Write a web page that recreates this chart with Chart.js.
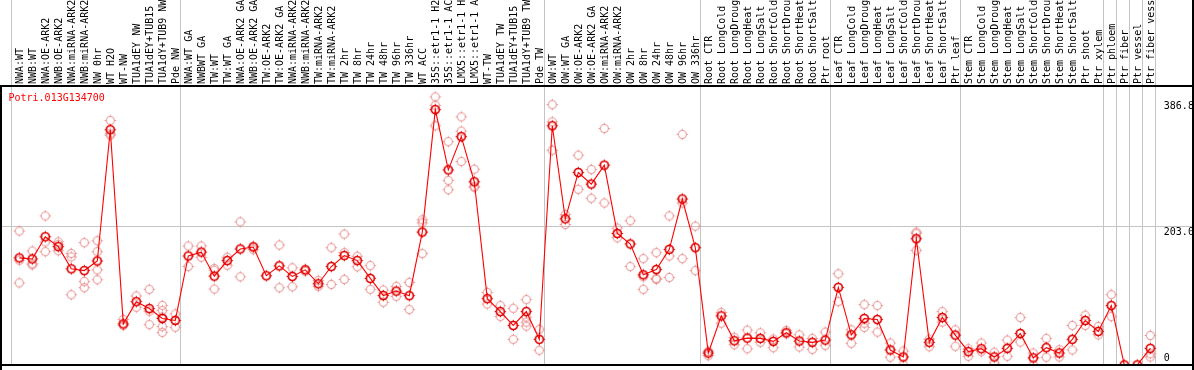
<!DOCTYPE html>
<html><head><meta charset="utf-8">
<script src="https://cdn.jsdelivr.net/npm/chart.js@4/dist/chart.umd.min.js"></script>
<style>html,body{margin:0;padding:0;background:#fff;overflow:hidden}canvas{display:block}</style>
</head><body>
<canvas id="c" width="1194" height="370"></canvas>
<script>
const geneId = 'Potri.013G134700';

const categories = [
 'NWA:WT','NWB:WT','NWA:OE-ARK2','NWB:OE-ARK2','NWA:miRNA-ARK2','NWB:miRNA-ARK2','NW 0hr','WT H2O','WT-NW','TUA1dEY NW',
 'TUA1dEY+TUB15','TUA1dY+TUB9 NW','Pde NW','NWA:WT GA','NWBWT GA','TW:WT','TW:WT GA','NWA:OE-ARK2 GA','NWB:OE-ARK2 GA','TW:OE-ARK2',
 'TW:OE-ARK2 GA','NWA:miRNA-ARK2','NWB:miRNA-ARK2','TW:miRNA-ARK2','TW:miRNA-ARK2','TW 2hr','TW 8hr','TW 24hr','TW 48hr','TW 96hr',
 'TW 336hr','WT ACC','35S::etr1-1 H2O','35S::etr1-1 ACC','LMX5::etr1-1 H2O','LMX5::etr1-1 ACC','WT-TW','TUA1dEY TW','TUA1dEY+TUB15','TUA1dY+TUB9 TW',
 'Pde TW','OW:WT','OW:WT GA','OW:OE-ARK2','OW:OE-ARK2 GA','OW:miRNA-ARK2','OW:miRNA-ARK2','OW 2hr','OW 8hr','OW 24hr',
 'OW 48hr','OW 96hr','OW 336hr','Root CTR','Root LongCold','Root LongDrought','Root LongHeat','Root LongSalt','Root ShortCold','Root ShortDrought',
 'Root ShortHeat','Root ShortSalt','Ptr root','Leaf CTR','Leaf LongCold','Leaf LongDrought','Leaf LongHeat','Leaf LongSalt','Leaf ShortCold','Leaf ShortDrought',
 'Leaf ShortHeat','Leaf ShortSalt','Ptr leaf','Stem CTR','Stem LongCold','Stem LongDrought','Stem LongHeat','Stem LongSalt','Stem ShortCold','Stem ShortDrought',
 'Stem ShortHeat','Stem ShortSalt','Ptr shoot','Ptr xylem','Ptr phloem','Ptr fiber','Ptr vessel','Ptr fiber vessel'
];

const means = [
 156.5,155,187.5,173,140.5,138,152,344,60,92.5,
 82.4,67.9,65,159.4,165,129.8,152.6,169.6,172.5,130.4,
 144.9,129.4,139,118.7,143.9,159.9,152.6,126.5,101.5,108,
 101.3,194.3,373.5,285.3,333.9,267.9,96.9,78,57.7,78,
 37.4,349.8,213.7,281.5,264.5,292.2,192.3,176.9,131.8,139.5,
 169,242.7,171.5,17.4,71.7,35.3,39.2,38.8,34.4,47,
 34.9,33,36.3,113.4,44,67.8,66.4,21.8,11.6,184.6,
 33,69.3,43.6,19.4,23.7,11.6,24.2,46,10.2,25.2,
 17.4,37.4,65,49,86.8,0,0,24.2
];

const repA = [
 195.8,166.7,218,180,163,178.8,181.7,357.6,66.4,100.8,
 110.5,87,74.6,174,174,141,157.4,209.3,173.4,null,
 175.4,142,140,123.5,171.5,191.4,158.9,145.3,109.5,114.8,
 120.6,212.2,392,326.6,362.9,286.3,106,86.8,82.8,95.5,
 51.9,380.8,219.9,306.7,285.9,345.9,200.1,210.8,155.5,164.2,
 218,337.2,203,19.9,76.6,40.3,50.9,47,37.8,50.4,
 44,38.8,48,133.3,51.3,88.2,86.8,32,20.3,194.3,
 37.8,78,51.3,23.7,32,18.5,36.3,69.3,17.4,38.8,
 22.2,57.7,72.7,56.2,102.8,null,null,43.1
];

const repB = [
 153,148,179.8,176,158,122,165.7,338,57.7,84.3,
 78.5,79.5,55,144,157.4,138.5,145.8,128.9,168.6,null,
 112.9,114.4,137,114.8,117.7,164.2,143.5,110.5,91.6,100.3,
 81,207.8,379.8,269.9,342,261.2,89,70.8,37.4,69.8,
 21.4,355.7,205.4,256.8,243.7,236.9,186,143.9,128.9,126.5,
 159.4,236.9,138,13.5,61,29.5,23.7,33,25.2,45.5,
 26.2,22.8,28.6,92.6,31.5,61,48,11.2,0,167.6,
 26.6,62.5,27.2,12.6,19.4,2.9,12.6,33.4,0,11.2,
 11.6,21.8,57.7,44,70.8,null,null,16.4
];

const repC = [
 120,146.3,165.7,167,102.7,113,139,336,null,null,
 59,70,null,null,null,111,null,null,null,null,
 null,null,null,null,null,125,null,null,null,null,
 null,162.8,349.8,256.3,297.5,259.7,null,null,null,62.5,
 null,314,null,null,null,null,null,null,110.5,125,
 127.9,155.5,null,null,null,null,null,null,null,null,
 null,null,null,null,null,54.8,null,null,null,192,
 null,null,null,null,null,null,null,null,null,null,
 null,null,null,null,null,null,null,11.6
];

const repD = [
 null,null,null,null,null,null,124.6,null,null,null,
 null,56,null,null,null,null,null,null,null,null,
 null,null,null,null,null,null,null,null,null,null,
 null,null,null,null,null,null,null,null,null,56.7,
 null,null,null,null,null,null,null,null,null,null,
 null,null,null,null,null,null,null,null,null,null,
 null,null,null,null,null,null,null,null,null,null,
 null,null,null,null,null,null,null,null,null,null,
 null,null,null,null,null,null,null,null
];

const repE = [
 null,null,null,null,null,null,null,null,null,null,
 null,47.5,null,null,null,null,null,null,null,null,
 null,null,null,null,null,null,null,null,null,null,
 null,null,null,null,null,null,null,null,null,null,
 null,null,null,null,null,null,null,null,null,null,
 null,null,null,null,null,null,null,null,null,null,
 null,null,null,null,null,null,null,null,null,null,
 null,null,null,null,null,null,null,null,null,null,
 null,null,null,null,null,null,null,null
];

const yTickValues = [0, 203.0, 386.8];
const yTickLabels = ['0', '203.0', '386.8'];
const yGridValues = [203.0];
const groupBreaks = [0, 13, 41, 53, 63, 73, 84, 85, 86, 87, 88];
const yMax = 408;

function makeMarker(color, lw) {
  const c = document.createElement('canvas');
  c.width = 15; c.height = 15;
  const g = c.getContext('2d');
  g.strokeStyle = color; g.lineWidth = lw;
  g.beginPath(); g.arc(7.5, 7.5, 4, 0, Math.PI * 2); g.stroke();
  g.lineWidth = 1;
  g.beginPath();
  g.moveTo(7.5, 1.8); g.lineTo(7.5, 3);
  g.moveTo(7.5, 12); g.lineTo(7.5, 13.2);
  g.moveTo(1.8, 7.5); g.lineTo(3, 7.5);
  g.moveTo(12, 7.5); g.lineTo(13.2, 7.5);
  g.stroke();
  return c;
}
const meanMarker = makeMarker('#e00000', 1.7);
const repMarker = makeMarker('rgba(232,140,140,0.9)', 1.1);

const FONT = '10px "DejaVu Sans Mono"';

const decor = {
  id: 'decor',
  beforeDraw(chart) {
    const { ctx, chartArea: a, scales: { y } } = chart;
    const slot = (a.right - a.left) / categories.length;
    ctx.save();
    ctx.strokeStyle = '#c4c4c4';
    ctx.lineWidth = 1;
    ctx.beginPath();
    groupBreaks.forEach(k => {
      const px = Math.round(a.left + k * slot - 1.5) + 0.5;
      ctx.moveTo(px, 0); ctx.lineTo(px, a.bottom);
    });
    yGridValues.forEach(v => {
      const py = Math.round(y.getPixelForValue(v)) + 0.5;
      ctx.moveTo(2, py); ctx.lineTo(chart.width - 2, py);
    });
    ctx.stroke();
    ctx.restore();
  },
  afterDraw(chart) {
    const { ctx, chartArea: a, scales: { y } } = chart;
    ctx.save();
    ctx.strokeStyle = '#000';
    ctx.lineWidth = 2;
    ctx.beginPath();
    ctx.moveTo(0, a.top); ctx.lineTo(chart.width, a.top);
    ctx.moveTo(1, a.top); ctx.lineTo(1, chart.height);
    ctx.moveTo(chart.width - 1, 0); ctx.lineTo(chart.width - 1, chart.height);
    ctx.moveTo(0, a.bottom); ctx.lineTo(chart.width, a.bottom);
    ctx.stroke();
    ctx.font = FONT;
    ctx.fillStyle = '#ff0000';
    ctx.textAlign = 'left';
    ctx.textBaseline = 'alphabetic';
    ctx.fillText(geneId, 8.5, a.top + 15);
    ctx.fillStyle = '#000';
    yTickValues.forEach((v, i) => {
      let py = y.getPixelForValue(v) + 9;
      if (py > a.bottom - 4) py = a.bottom - 4;
      ctx.fillText(yTickLabels[i], a.right + 7, py);
    });
    ctx.restore();
  }
};

const repSets = [repA, repB, repC, repD, repE].map(r => ({
  data: r, showLine: false, pointStyle: repMarker, pointRadius: 4,
  borderColor: 'rgba(232,140,140,0.9)', order: 2, spanGaps: false
}));

new Chart(document.getElementById('c'), {
  type: 'line',
  data: {
    labels: categories,
    datasets: [
      { data: means, borderColor: '#ff0000', borderWidth: 1.1, tension: 0,
        pointStyle: meanMarker, pointRadius: 4, order: 1 },
      ...repSets
    ]
  },
  options: {
    responsive: false,
    animation: false,
    devicePixelRatio: 1,
    layout: { padding: { left: 12.8, right: 37.2, top: 0, bottom: 1 } },
    plugins: { legend: { display: false }, tooltip: { enabled: false } },
    scales: {
      x: {
        type: 'category', position: 'top', offset: true,
        grid: { display: false, drawTicks: false }, border: { display: false },
        ticks: { autoSkip: false, minRotation: 90, maxRotation: 90, padding: 2, labelOffset: 13,
                 color: '#000', font: { family: 'DejaVu Sans Mono', size: 10 } },
        afterFit(s) { s.height = 86; s.paddingLeft = 0; s.paddingRight = 0; }
      },
      y: { display: false, min: 0, max: yMax }
    }
  },
  plugins: [decor]
});
</script>
</body></html>
